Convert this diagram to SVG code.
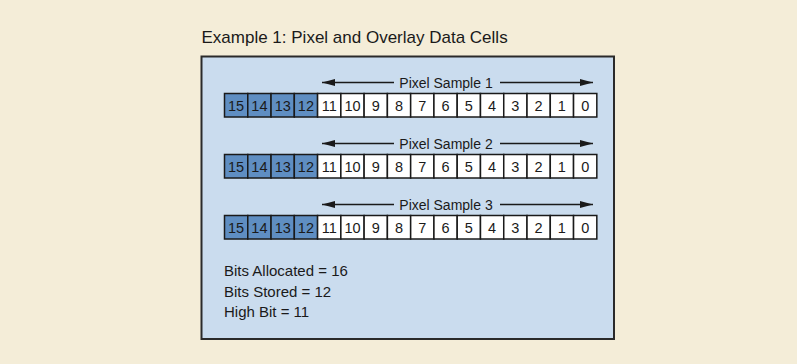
<svg xmlns="http://www.w3.org/2000/svg" width="797" height="364" viewBox="0 0 797 364">
<style>
text{font-family:"Liberation Sans",Arial,sans-serif;fill:#1a1a1a}
.title{font-size:17px}
.lbl{font-size:14px;text-anchor:middle}
.info{font-size:15px}
.num{font-size:14.5px;text-anchor:middle}
.hi{fill:#5f8ec2;stroke:#1a1a1a;stroke-width:1.5}
.lo{fill:#ffffff;stroke:#1a1a1a;stroke-width:1.5}
.arr{stroke:#1a1a1a;stroke-width:1.5;fill:none;marker-end:url(#ah)}
</style>
<defs>
<marker id="ah" markerUnits="userSpaceOnUse" markerWidth="14" markerHeight="8" refX="13" refY="3.5" orient="auto">
<path d="M0,0 L13,3.5 L0,7 z" fill="#1a1a1a"/>
</marker>
</defs>
<rect width="797" height="364" fill="#f4edd8"/>
<g id="title"><text class="title" x="201.5" y="42.7">Example 1: Pixel and Overlay Data Cells</text></g>
<g id="panel"><rect x="201.5" y="56.5" width="412.5" height="282.5" fill="#cadcee" stroke="#2a2a2a" stroke-width="2"/></g>

<g id="row1">
<rect class="hi" x="224.5" y="93.5" width="23.27" height="23.5"/>
<rect class="hi" x="247.77" y="93.5" width="23.27" height="23.5"/>
<rect class="hi" x="271.04" y="93.5" width="23.27" height="23.5"/>
<rect class="hi" x="294.31" y="93.5" width="23.27" height="23.5"/>
<rect class="lo" x="317.58" y="93.5" width="23.27" height="23.5"/>
<rect class="lo" x="340.85" y="93.5" width="23.27" height="23.5"/>
<rect class="lo" x="364.12" y="93.5" width="23.27" height="23.5"/>
<rect class="lo" x="387.39" y="93.5" width="23.27" height="23.5"/>
<rect class="lo" x="410.66" y="93.5" width="23.27" height="23.5"/>
<rect class="lo" x="433.93" y="93.5" width="23.27" height="23.5"/>
<rect class="lo" x="457.2" y="93.5" width="23.27" height="23.5"/>
<rect class="lo" x="480.47" y="93.5" width="23.27" height="23.5"/>
<rect class="lo" x="503.74" y="93.5" width="23.27" height="23.5"/>
<rect class="lo" x="527.01" y="93.5" width="23.27" height="23.5"/>
<rect class="lo" x="550.28" y="93.5" width="23.27" height="23.5"/>
<rect class="lo" x="573.55" y="93.5" width="23.27" height="23.5"/>
<text class="num" y="110.7"><tspan x="236.1">15</tspan><tspan x="259.4">14</tspan><tspan x="282.7">13</tspan><tspan x="305.9">12</tspan><tspan x="329.2">11</tspan><tspan x="352.5">10</tspan><tspan x="375.8">9</tspan><tspan x="399">8</tspan><tspan x="422.3">7</tspan><tspan x="445.6">6</tspan><tspan x="468.8">5</tspan><tspan x="492.1">4</tspan><tspan x="515.4">3</tspan><tspan x="538.6">2</tspan><tspan x="561.9">1</tspan><tspan x="585.2">0</tspan></text>
<text class="lbl" x="446" y="87.5">Pixel Sample 1</text>
</g>

<g id="row2">
<rect class="hi" x="224.5" y="154.5" width="23.27" height="23.5"/>
<rect class="hi" x="247.77" y="154.5" width="23.27" height="23.5"/>
<rect class="hi" x="271.04" y="154.5" width="23.27" height="23.5"/>
<rect class="hi" x="294.31" y="154.5" width="23.27" height="23.5"/>
<rect class="lo" x="317.58" y="154.5" width="23.27" height="23.5"/>
<rect class="lo" x="340.85" y="154.5" width="23.27" height="23.5"/>
<rect class="lo" x="364.12" y="154.5" width="23.27" height="23.5"/>
<rect class="lo" x="387.39" y="154.5" width="23.27" height="23.5"/>
<rect class="lo" x="410.66" y="154.5" width="23.27" height="23.5"/>
<rect class="lo" x="433.93" y="154.5" width="23.27" height="23.5"/>
<rect class="lo" x="457.2" y="154.5" width="23.27" height="23.5"/>
<rect class="lo" x="480.47" y="154.5" width="23.27" height="23.5"/>
<rect class="lo" x="503.74" y="154.5" width="23.27" height="23.5"/>
<rect class="lo" x="527.01" y="154.5" width="23.27" height="23.5"/>
<rect class="lo" x="550.28" y="154.5" width="23.27" height="23.5"/>
<rect class="lo" x="573.55" y="154.5" width="23.27" height="23.5"/>
<text class="num" y="171.7"><tspan x="236.1">15</tspan><tspan x="259.4">14</tspan><tspan x="282.7">13</tspan><tspan x="305.9">12</tspan><tspan x="329.2">11</tspan><tspan x="352.5">10</tspan><tspan x="375.8">9</tspan><tspan x="399">8</tspan><tspan x="422.3">7</tspan><tspan x="445.6">6</tspan><tspan x="468.8">5</tspan><tspan x="492.1">4</tspan><tspan x="515.4">3</tspan><tspan x="538.6">2</tspan><tspan x="561.9">1</tspan><tspan x="585.2">0</tspan></text>
<text class="lbl" x="446" y="148.5">Pixel Sample 2</text>
</g>

<g id="row3">
<rect class="hi" x="224.5" y="215.5" width="23.27" height="23.5"/>
<rect class="hi" x="247.77" y="215.5" width="23.27" height="23.5"/>
<rect class="hi" x="271.04" y="215.5" width="23.27" height="23.5"/>
<rect class="hi" x="294.31" y="215.5" width="23.27" height="23.5"/>
<rect class="lo" x="317.58" y="215.5" width="23.27" height="23.5"/>
<rect class="lo" x="340.85" y="215.5" width="23.27" height="23.5"/>
<rect class="lo" x="364.12" y="215.5" width="23.27" height="23.5"/>
<rect class="lo" x="387.39" y="215.5" width="23.27" height="23.5"/>
<rect class="lo" x="410.66" y="215.5" width="23.27" height="23.5"/>
<rect class="lo" x="433.93" y="215.5" width="23.27" height="23.5"/>
<rect class="lo" x="457.2" y="215.5" width="23.27" height="23.5"/>
<rect class="lo" x="480.47" y="215.5" width="23.27" height="23.5"/>
<rect class="lo" x="503.74" y="215.5" width="23.27" height="23.5"/>
<rect class="lo" x="527.01" y="215.5" width="23.27" height="23.5"/>
<rect class="lo" x="550.28" y="215.5" width="23.27" height="23.5"/>
<rect class="lo" x="573.55" y="215.5" width="23.27" height="23.5"/>
<text class="num" y="232.7"><tspan x="236.1">15</tspan><tspan x="259.4">14</tspan><tspan x="282.7">13</tspan><tspan x="305.9">12</tspan><tspan x="329.2">11</tspan><tspan x="352.5">10</tspan><tspan x="375.8">9</tspan><tspan x="399">8</tspan><tspan x="422.3">7</tspan><tspan x="445.6">6</tspan><tspan x="468.8">5</tspan><tspan x="492.1">4</tspan><tspan x="515.4">3</tspan><tspan x="538.6">2</tspan><tspan x="561.9">1</tspan><tspan x="585.2">0</tspan></text>
<text class="lbl" x="446" y="209.5">Pixel Sample 3</text>
</g>

<g id="connectors">
<line class="arr" x1="394" y1="82.5" x2="322" y2="82.5"/>
<line class="arr" x1="500" y1="82.5" x2="593" y2="82.5"/>
<line class="arr" x1="394" y1="143.5" x2="322" y2="143.5"/>
<line class="arr" x1="500" y1="143.5" x2="593" y2="143.5"/>
<line class="arr" x1="394" y1="204.5" x2="322" y2="204.5"/>
<line class="arr" x1="500" y1="204.5" x2="593" y2="204.5"/>
</g>

<g id="info">
<text class="info" x="224" y="275.7">Bits Allocated = 16</text>
<text class="info" x="224" y="296.7">Bits Stored = 12</text>
<text class="info" x="224" y="317.3">High Bit = 11</text>
</g>
</svg>
